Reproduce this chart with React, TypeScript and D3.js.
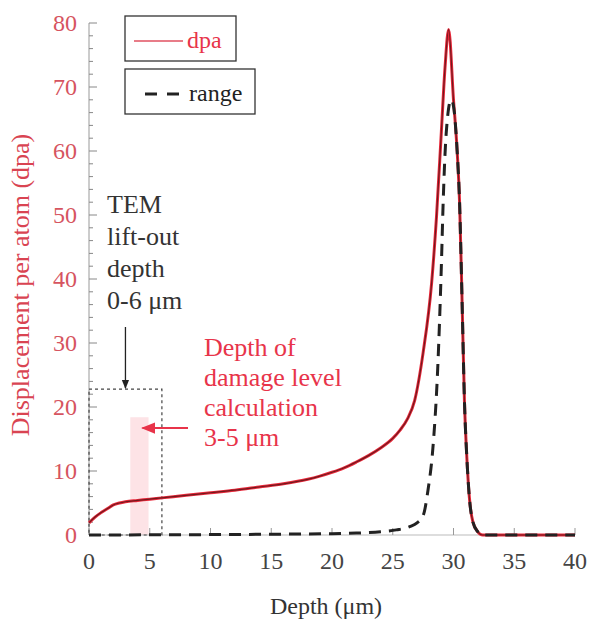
import React from "react";
import * as d3 from "d3";

const xTicks = [0, 5, 10, 15, 20, 25, 30, 35, 40];
const yTicks = [0, 10, 20, 30, 40, 50, 60, 70, 80];
const yMinor = d3.range(0, 81, 2);

const dpaX = [0, 0.5, 1, 1.5, 2, 2.5, 3, 4, 5, 6, 8, 10, 12, 14, 16, 18, 19, 20, 21, 22, 23, 24, 25, 25.6, 26.2, 26.8, 27.5, 28.2, 28.6, 29.0, 29.3, 29.6, 30, 30.3, 30.5, 30.7, 30.9, 31.1, 31.3, 31.6, 32.0, 32.4, 40];
const dpaY = [1.9, 2.8, 3.5, 4.1, 4.7, 5.0, 5.2, 5.4, 5.6, 5.8, 6.2, 6.6, 7.0, 7.5, 8.0, 8.7, 9.2, 9.8, 10.5, 11.4, 12.4, 13.6, 15.1, 16.4, 18.1, 21, 28.5, 39.4, 49.7, 63, 73, 79, 68, 60, 52, 37, 21, 12, 6, 2, 0.5, 0, 0];

const rangeX = [0, 20, 22, 24, 25.3, 26.4, 27, 27.5, 27.9, 28.3, 28.7, 29.0, 29.15, 29.4, 29.8, 30.0, 30.3, 30.5, 30.7, 30.9, 31.1, 31.3, 31.6, 32.0, 32.4, 40];
const rangeY = [0, 0.2, 0.3, 0.5, 0.8, 1.3, 1.9, 3.0, 7, 13.5, 26, 42, 52, 62.8, 68, 67, 60, 52, 37, 21, 12, 6, 2, 0.5, 0, 0];

const temLines = ["TEM", "lift-out", "depth", "0-6 \u03bcm"];
const calcLines = ["Depth of", "damage level", "calculation", "3-5 \u03bcm"];
const temBox = { x0: 0, x1: 6, y1: 22.8 };
const calcBand = { x0: 3.4, x1: 4.9, y1: 18.4 };

const FONT = "Liberation Serif";

export default function App() {
  const x = d3.scaleLinear().domain([0, 40]).range([89, 575]);
  const y = d3.scaleLinear().domain([0, 80]).range([535, 23]);
  const line = d3
    .line<[number, number]>()
    .x((d) => x(d[0]))
    .y((d) => y(d[1]))
    .curve(d3.curveMonotoneX);
  const dpa = dpaX.map((v, i) => [v, dpaY[i]] as [number, number]);
  const range = rangeX.map((v, i) => [v, rangeY[i]] as [number, number]);
  const ts = { fontFamily: FONT };

  return (
    <svg width={590} height={619} style={{ position: "absolute", left: 0, top: 0, background: "#fff" }}>
      <defs>
        <marker id="ah-black" viewBox="0 0 10 10" refX="9" refY="5" markerWidth="7" markerHeight="7" orient="auto">
          <path d="M0,1 L10,5 L0,9 z" fill="#222" />
        </marker>
        <marker id="ah-red" viewBox="0 0 10 10" refX="9" refY="5" markerWidth="7" markerHeight="7" orient="auto">
          <path d="M0,1 L10,5 L0,9 z" fill="#e8344a" />
        </marker>
      </defs>

      <rect
        x={x(calcBand.x0)}
        y={y(calcBand.y1)}
        width={x(calcBand.x1) - x(calcBand.x0)}
        height={y(0) - y(calcBand.y1)}
        fill="#fde3e6"
      />

      <line x1={x(0)} x2={x(0)} y1={y(80)} y2={y(0)} stroke="#999" strokeWidth={1} />
      <line x1={x(0)} x2={x(40)} y1={y(0)} y2={y(0)} stroke="#bbb" strokeWidth={1} />
      {yMinor.map((t) => (
        <line key={"ym" + t} x1={x(0)} x2={x(0) + (t % 10 === 0 ? 8 : 4)} y1={y(t)} y2={y(t)} stroke="#888" strokeWidth={1} />
      ))}
      {xTicks.map((t) => (
        <line key={"xt" + t} x1={x(t)} x2={x(t)} y1={y(0)} y2={y(0) - 7} stroke="#999" strokeWidth={1} />
      ))}
      {yTicks.map((t) => (
        <text key={"yl" + t} style={ts} x={77} y={y(t) + 8} textAnchor="end" fontSize={24} fill="#d65460">
          {t}
        </text>
      ))}
      {xTicks.map((t) => (
        <text key={"xl" + t} style={ts} x={x(t)} y={569} textAnchor="middle" fontSize={24} fill="#444">
          {t}
        </text>
      ))}
      <text
        style={ts}
        transform={`translate(29, ${(y(0) + y(80)) / 2 + 6}) rotate(-90)`}
        textAnchor="middle"
        fontSize={26}
        fill="#d94452"
      >
        Displacement per atom (dpa)
      </text>
      <text style={ts} x={326} y={614} textAnchor="middle" fontSize={24} fill="#333">
        Depth (μm)
      </text>

      <rect
        x={x(temBox.x0)}
        y={y(temBox.y1)}
        width={x(temBox.x1) - x(temBox.x0)}
        height={y(0) - y(temBox.y1)}
        fill="none"
        stroke="#444"
        strokeWidth={1.2}
        strokeDasharray="3,3"
      />

      <path d={line(dpa) ?? ""} fill="none" stroke="#e8283a" strokeWidth={3} />
      <path d={line(dpa) ?? ""} fill="none" stroke="#4a1414" strokeWidth={1.2} opacity={0.75} />
      <path d={line(range) ?? ""} fill="none" stroke="#222" strokeWidth={3} strokeDasharray="12,8" />

      {temLines.map((s, i) => (
        <text key={"tem" + i} style={ts} x={107} y={213 + i * 32} fontSize={26} fill="#333">
          {s}
        </text>
      ))}
      <line x1={x(3)} x2={x(3)} y1={327} y2={y(temBox.y1) - 1} stroke="#222" strokeWidth={1.3} markerEnd="url(#ah-black)" />

      {calcLines.map((s, i) => (
        <text key={"calc" + i} style={ts} x={204} y={356 + i * 30} fontSize={26} fill="#e8344a">
          {s}
        </text>
      ))}
      <line x1={188} x2={x(4.4)} y1={y(16.7)} y2={y(16.7)} stroke="#e8344a" strokeWidth={2} markerEnd="url(#ah-red)" />

      <rect x={125} y={16} width={111} height={45} fill="#fff" stroke="#333" strokeWidth={1.3} />
      <line x1={134} x2={183} y1={41} y2={41} stroke="#e05060" strokeWidth={1.5} />
      <text style={ts} x={187} y={48} fontSize={24} fill="#e8344a">dpa</text>
      <rect x={125} y={69} width={130} height={45} fill="#fff" stroke="#333" strokeWidth={1.3} />
      <line x1={145} x2={182} y1={94} y2={94} stroke="#222" strokeWidth={3} strokeDasharray="12,10" />
      <text style={ts} x={189} y={101} fontSize={24} fill="#222">range</text>
    </svg>
  );
}
